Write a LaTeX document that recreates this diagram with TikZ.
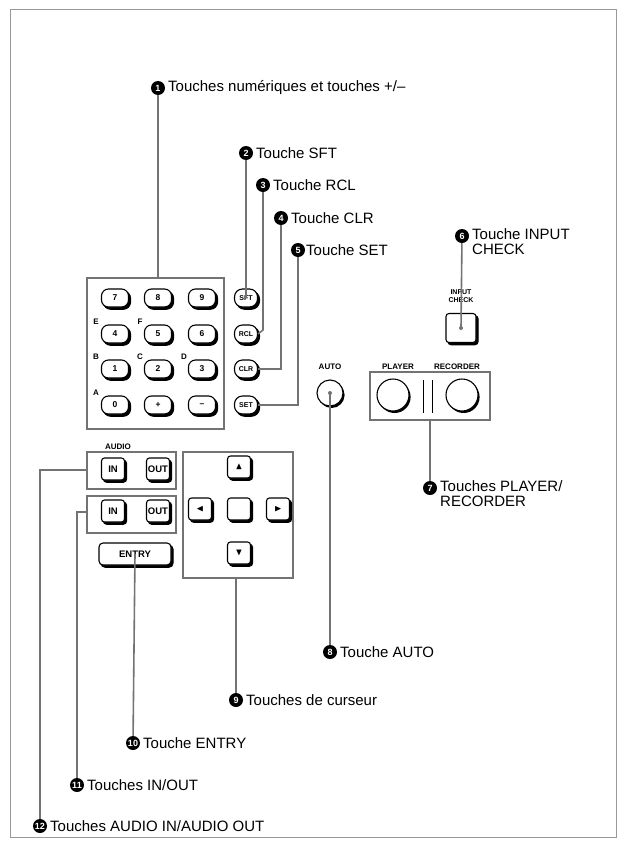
\documentclass[tikz,border=0pt]{standalone}
\usepackage{amssymb}
\usepackage{fontspec}
\setmainfont{Liberation Sans}
\begin{document}
\begin{tikzpicture}[x=1pt,y=-1pt,
  lead/.style={draw=black!55,line width=1.6pt},
  box/.style={draw=black!55,line width=1.4pt},
  bul/.style={circle,fill=black,text=white,inner sep=0pt,minimum size=14pt,font=\bfseries\fontsize{9}{9}\selectfont},
  lbl/.style={anchor=west,font=\fontsize{15}{15.5}\selectfont,align=left,inner sep=1pt},
  key/.style={draw,line width=1.1pt,fill=white,rounded corners=7pt,minimum width=27pt,minimum height=18pt,inner sep=0pt,font=\bfseries\fontsize{8.5}{8.5}\selectfont,
     preaction={fill=black,draw=black,transform canvas={shift={(2pt,-2.2pt)}}}},
  skey/.style={key,minimum width=23pt,rounded corners=8pt,font=\bfseries\fontsize{7}{7}\selectfont},
  sq/.style={key,rounded corners=3pt,minimum width=23pt,minimum height=22pt,font=\bfseries\fontsize{9.5}{9.5}\selectfont},
  tiny/.style={font=\bfseries\fontsize{8}{8}\selectfont,inner sep=0pt}]
\useasboundingbox (0,0) rectangle (626,846);
\draw[black!40,line width=0.8pt] (10,9) rectangle (616,837);
% keypad
\draw[box] (87,278) rectangle (224,429);
\foreach \t/\x/\y/\n in {7/115/298/k7,8/158/298/k8,9/202/298/k9,4/115/334/k4,5/158/334/k5,6/202/334/k6,1/115/369/k1,2/158/369/k2,3/202/369/k3,0/115/405/k0,+/158/405/kp,--/202/405/km}
  \node[key] (\n) at (\x,\y) {\t};
\foreach \t/\x/\y in {E/96/322,F/140/322,B/96/357,C/140/357,D/184/357,A/96/393}
  \node[tiny] at (\x,\y) {\t};
\node[skey] (sft) at (246,298) {SFT};
\node[skey] (rcl) at (246,334) {RCL};
\node[skey] (clr) at (246,369) {CLR};
\node[skey] (set) at (246,405) {SET};
% auto
\node[tiny] at (330,367) {AUTO};
\node[circle,draw,line width=1.1pt,fill=white,minimum size=26pt,preaction={fill=black,transform canvas={shift={(1.6pt,-2pt)}}}] (auto) at (330,393) {};
% input check
\node[tiny,align=center,font=\bfseries\fontsize{7}{8}\selectfont] at (461,296) {INPUT\\CHECK};
\node[sq,minimum width=30pt,minimum height=29pt] (ic) at (461,328) {};
% player/recorder
\draw[box] (370,372) rectangle (490,420);
\node[tiny] at (398,367) {PLAYER};
\node[tiny] at (457,367) {RECORDER};
\draw[line width=1pt] (423,380) -- (423,413) (432,380) -- (432,413);
\node[circle,draw,line width=1.1pt,fill=white,minimum size=32pt,preaction={fill=black,transform canvas={shift={(1.6pt,-2pt)}}}] (pl) at (393,395) {};
\node[circle,draw,line width=1.1pt,fill=white,minimum size=32pt,preaction={fill=black,transform canvas={shift={(1.6pt,-2pt)}}}] (rec) at (462,395) {};
\coordinate (prb) at (430,420);
% audio / video
\draw[box] (87,452) rectangle (176,489);
\node[tiny] at (118,447) {AUDIO};
\node[sq] (ain) at (113,469) {IN};
\node[sq] (aout) at (158,469) {OUT};
\draw[box] (87,496) rectangle (176,533);
\node[sq] (vin) at (113,511) {IN};
\node[sq] (vout) at (158,511) {OUT};
\node[key,rounded corners=4pt,minimum width=72pt,minimum height=22pt,font=\bfseries\fontsize{9.5}{9.5}\selectfont] (entry) at (135,554) {ENTRY};
% cursor
\draw[box] (183,452) rectangle (293,578);
\node[sq] (up) at (239,467) {$\blacktriangle$};
\node[sq] (left) at (200,509) {$\blacktriangleleft$};
\node[sq] (mid) at (239,509) {};
\node[sq] (right) at (278,509) {$\blacktriangleright$};
\node[sq] (down) at (239,553) {$\blacktriangledown$};
% labels
\node[bul] (b1) at (158,88) {1}; \node[lbl] at (167,88) {Touches numériques et touches +/–};
\node[bul] (b2) at (246,153) {2}; \node[lbl] at (255,153) {Touche SFT};
\node[bul] (b3) at (263,185) {3}; \node[lbl] at (272,185) {Touche RCL};
\node[bul] (b4) at (281,218) {4}; \node[lbl] at (290,218) {Touche CLR};
\node[bul] (b5) at (298,250) {5}; \node[lbl] at (305,250) {Touche SET};
\node[bul] (b6) at (462,236) {6}; \node[lbl,anchor=north west] at (471,227) {Touche INPUT\\CHECK};
\node[bul] (b7) at (430,488) {7}; \node[lbl,anchor=north west] at (439,479) {Touches PLAYER/\\RECORDER};
\node[bul] (b8) at (330,652) {8}; \node[lbl] at (339,652) {Touche AUTO};
\node[bul] (b9) at (236,700) {9}; \node[lbl] at (245,700) {Touches de curseur};
\node[bul] (b10) at (133,743) {10}; \node[lbl] at (142,743) {Touche ENTRY};
\node[bul] (b11) at (77,785) {11}; \node[lbl] at (86,785) {Touches IN/OUT};
\node[bul] (b12) at (40,826) {12}; \node[lbl] at (49,826) {Touches AUDIO IN/AUDIO OUT};
% leaders
\draw[lead] (b1) -- (158,278);
\draw[lead] (b2) -- (sft.center);
\draw[lead] (b3) -- (263,330) -- (rcl.east);
\draw[lead] (b4) -- (281,369) -- (clr.east);
\draw[lead] (b5) -- (298,405) -- (set.east);
\draw[lead] (b6) -- (ic.center);
\draw[lead] (prb) -- (b7);
\draw[lead] (auto.center) -- (b8);
\draw[lead] (236,578) -- (b9);
\draw[lead] (entry.center) -- (b10);
\draw[lead] (87,512) -- (77,512) -- (b11);
\draw[lead] (87,470) -- (40,470) -- (b12);
\fill[black!55] (ic.center) circle (2pt) (auto.center) circle (2pt);
\end{tikzpicture}
\end{document}
